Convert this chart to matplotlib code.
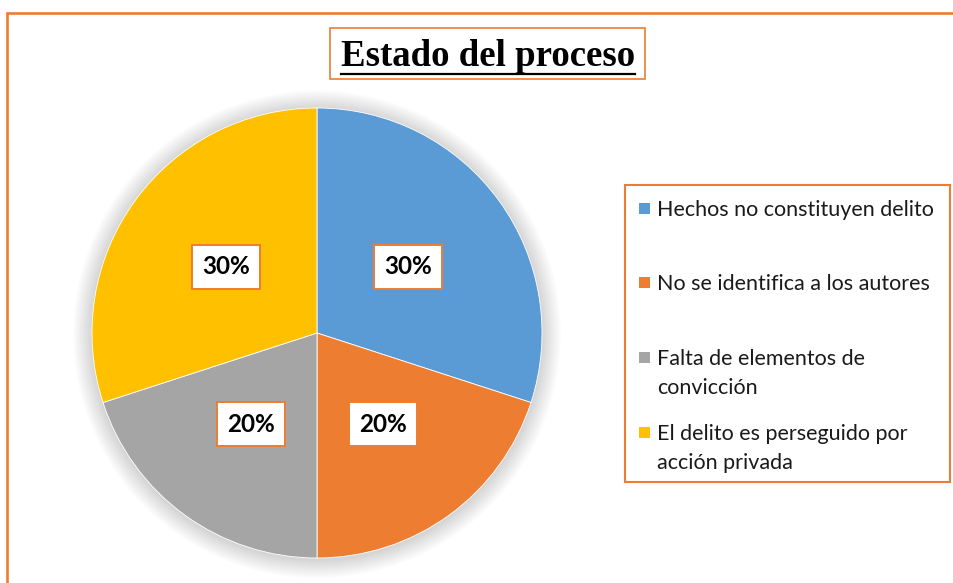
import numpy as np
import matplotlib
matplotlib.use("Agg")
import matplotlib.pyplot as plt
from matplotlib.patches import Rectangle, Circle
from matplotlib.lines import Line2D

# datos
categorias = ["Hechos no constituyen delito", "No se identifica a los autores",
              "Falta de elementos de\nconvicción", "El delito es perseguido por\nacción privada"]
valores = [30, 20, 20, 30]
colores = ["#5B9BD5", "#ED7D31", "#A5A5A5", "#FFC000"]
titulo = "Estado del proceso"

W, H = 954, 583
NARANJA = "#ED7D31"

def fx(px): return px / W
def fy(py): return 1 - py / H

fig = plt.figure(figsize=(W / 100, H / 100), dpi=100)
fig.patch.set_facecolor("white")

# marco exterior (cortado a la derecha y abajo)
fig.patches.append(Rectangle((fx(7.5), fy(600)), fx(1000), (600 - 12.5) / H,
                             transform=fig.transFigure, fill=False, ec=NARANJA, lw=1.9))

# titulo con recuadro
fig.patches.append(Rectangle((fx(330), fy(79)), fx(315), 51 / H, transform=fig.transFigure,
                             fill=False, ec=NARANJA, lw=1.2))
t = fig.text(fx(488), fy(57), titulo, ha="center", va="center", family="Liberation Serif",
             fontsize=26.5, fontweight="bold")
fig.canvas.draw()
bb = t.get_window_extent().transformed(fig.transFigure.inverted())
fig.add_artist(Line2D([bb.x0, bb.x1], [fy(73.5), fy(73.5)], transform=fig.transFigure,
                      color="black", lw=1.6))

# pastel
cx, cy, r = 317, 333, 225
ax = fig.add_axes([fx(cx - r), fy(cy + r), 2 * r / W, 2 * r / H])

# sombra suave
for i in range(14):
    ax.add_patch(Circle((0, -0.006), 1.0 + 0.006 * (i + 1), color="black", alpha=0.011,
                        lw=0, zorder=0, clip_on=False))

wedges, _ = ax.pie(valores, colors=colores, startangle=90, counterclock=False, radius=1,
                   wedgeprops=dict(lw=0.6, edgecolor="white"))
for w in wedges:
    w.set_zorder(2)
ax.set_xlim(-1, 1); ax.set_ylim(-1, 1); ax.set_aspect("equal"); ax.axis("off")

for v, w in zip(valores, wedges):
    mid = np.deg2rad((w.theta1 + w.theta2) / 2)
    ax.text(0.5 * np.cos(mid), 0.5 * np.sin(mid), f"{v}%", ha="center", va="center",
            family="Lato", fontweight="bold", fontsize=17.5, zorder=5,
            bbox=dict(boxstyle="square,pad=0.42", fc="white", ec=NARANJA, lw=1.4))

# leyenda manual
fig.patches.append(Rectangle((fx(625), fy(482)), fx(325), 297 / H, transform=fig.transFigure,
                             fill=False, ec=NARANJA, lw=1.5))
filas_y = [208, 282, 357, 432]
for nombre, col, yy in zip(categorias, colores, filas_y):
    fig.patches.append(Rectangle((fx(639), fy(yy + 6)), fx(11), 11 / H, transform=fig.transFigure,
                                 fc=col, ec="none"))
    fig.text(fx(657), fy(yy - 8), nombre, ha="left", va="top", family="Lato", fontsize=15.5,
             linespacing=1.55, color="#1a1a1a")

fig.savefig("out.png", dpi=100)
